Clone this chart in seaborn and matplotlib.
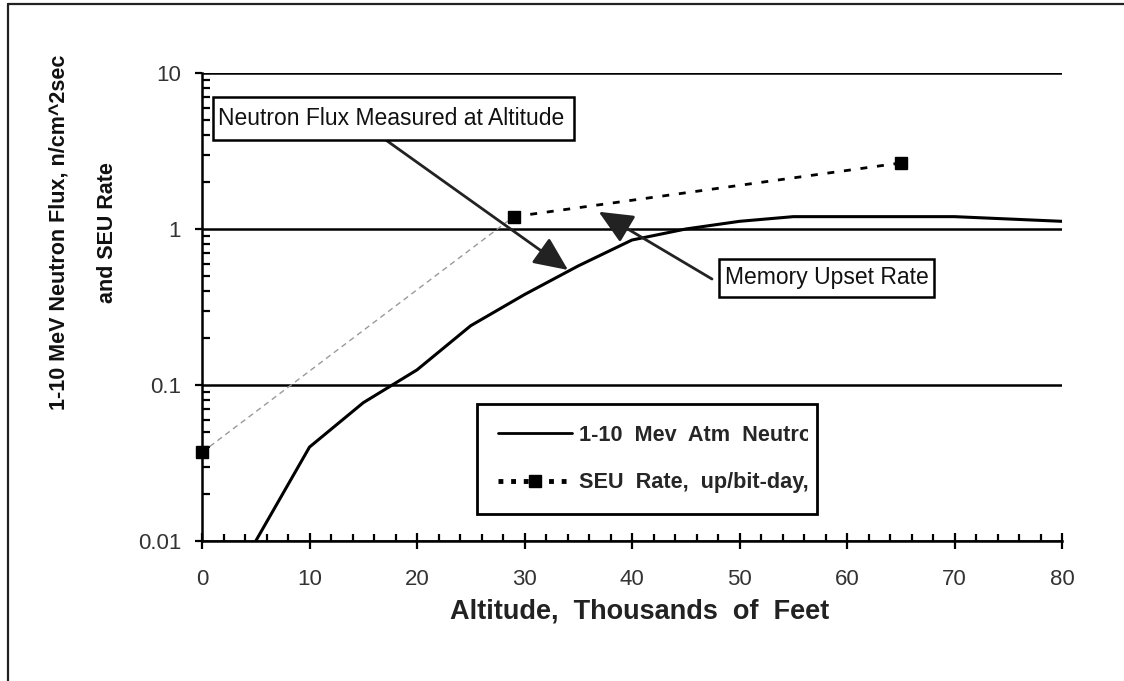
import numpy as np
import pandas as pd
import matplotlib
matplotlib.use("Agg")
import matplotlib.pyplot as plt
import seaborn as sns
from matplotlib.patches import Rectangle
from matplotlib.lines import Line2D
from matplotlib.ticker import MultipleLocator, LogLocator, NullFormatter
from matplotlib.font_manager import FontProperties
from matplotlib.transforms import Bbox

# ---------------- data ----------------
neutron_alt = [5, 10, 15, 20, 25, 30, 35, 40, 45, 50, 55, 60, 65, 70, 80]
neutron_flux = [0.01, 0.04, 0.077, 0.125, 0.24, 0.38, 0.58, 0.85, 1.0, 1.12, 1.2, 1.2, 1.2, 1.2, 1.12]

seu_alt = [0, 29, 65]
seu_rate = [0.037, 1.2, 2.65]

xticks = [0, 10, 20, 30, 40, 50, 60, 70, 80]
yticks = [0.01, 0.1, 1, 10]
ytick_labels = ["0.01", "0.1", "1", "10"]

legend_labels = ["1-10  Mev  Atm  Neutron", "SEU  Rate,  up/bit-day,  x1E-9"]
xlabel = "Altitude,  Thousands  of  Feet"
ylabel = "1-10 MeV Neutron Flux, n/cm^2sec\nand SEU Rate"
note_neutron = "Neutron Flux Measured at Altitude"
note_memory = "Memory Upset Rate"

# ---------------- style ----------------
sns.set_style("ticks")
plt.rcParams["font.family"] = ["Liberation Sans", "DejaVu Sans"]

W, H = 1124, 681
fig = plt.figure(figsize=(W / 100, H / 100), dpi=100)
fig.patch.set_linewidth(0)
ax = fig.add_axes([202 / W, 140 / H, 860 / W, 468 / H])

df_n = pd.DataFrame({"alt": neutron_alt, "flux": neutron_flux})
sns.lineplot(data=df_n, x="alt", y="flux", ax=ax, color="black", lw=2.2,
             sort=False, zorder=4)

# SEU rate: light first leg, darker dashed second leg
sns.lineplot(x=seu_alt[:2], y=seu_rate[:2], ax=ax, color="#9a9a9a", lw=1.0,
             linestyle=(0, (4, 3)), sort=False, zorder=4, clip_on=False)
sns.lineplot(x=seu_alt[1:], y=seu_rate[1:], ax=ax, color="black", lw=2.0,
             linestyle=(0, (2.5, 3.5)), sort=False, zorder=4, clip_on=False)
ax.plot(seu_alt, seu_rate, linestyle="none", marker="s", markersize=8,
        color="black", zorder=6, clip_on=False)

ax.set_yscale("log")
ax.set_xlim(0, 80)
ax.set_ylim(0.01, 10)

ax.set_xticks(xticks)
ax.set_xticklabels([str(v) for v in xticks])
ax.xaxis.set_minor_locator(MultipleLocator(2))
ax.set_yticks(yticks)
ax.set_yticklabels(ytick_labels)
ax.yaxis.set_minor_locator(LogLocator(base=10, subs=np.arange(2, 10)))
ax.yaxis.set_minor_formatter(NullFormatter())

ax.tick_params(axis="x", which="major", direction="inout", length=12, width=1.6,
               pad=14, labelsize=16, labelcolor="#333333", color="black")
ax.tick_params(axis="x", which="minor", direction="in", length=5, width=1.6,
               color="black")
ax.tick_params(axis="y", which="major", direction="out", length=5, width=1.6,
               pad=10, labelsize=16, labelcolor="#333333", color="black")
ax.tick_params(axis="y", which="minor", direction="in", length=6, width=1.6,
               color="black")

ax.grid(False)
ax.yaxis.grid(True, which="major", color="black", lw=1.8, zorder=1)
ax.set_axisbelow(True)
for s in ["top", "right"]:
    ax.spines[s].set_visible(False)
for s in ["left", "bottom"]:
    ax.spines[s].set_linewidth(1.8)
    ax.spines[s].set_color("black")

ax.set_xlabel(xlabel, fontsize=19.5, fontweight="bold", color="#222222")
ax.xaxis.set_label_coords(0.509, -0.15)
ax.xaxis.label.set_va("center")
ax.set_ylabel(ylabel, fontsize=15.5, fontweight="bold", color="#111111",
              linespacing=2.7)
ax.yaxis.set_label_coords(-0.138, 0.66)
ax.yaxis.label.set_va("center")

# ---------------- annotation boxes ----------------
def note_box(x0, y0, x1, y1, text, tx):
    r = Rectangle((x0, y0), x1 - x0, y1 - y0, transform=ax.transAxes,
                  facecolor="white", edgecolor="black", lw=1.8, zorder=7,
                  clip_on=False)
    ax.add_patch(r)
    t = ax.text(tx, (y0 + y1) / 2, text, transform=ax.transAxes, fontsize=16.5,
                ha="left", va="center", color="#111111", zorder=8)
    t.set_clip_path(r)
    return r

note_box(0.0128, 0.8568, 0.4326, 0.9487, note_neutron, 0.0186)
note_box(0.6012, 0.5214, 0.8512, 0.6026, note_memory, 0.6081)

arrow_kw = dict(arrowstyle="-|>,head_length=1.0,head_width=0.45",
                mutation_scale=21, lw=2.0, color="#222222",
                shrinkA=0, shrinkB=0)
ax.annotate("", xy=(34.05, 0.546), xycoords="data",
            xytext=(0.2105, 0.8611), textcoords="axes fraction",
            arrowprops=arrow_kw, zorder=6)
ax.annotate("", xy=(36.9, 1.29), xycoords="data",
            xytext=(0.593, 0.5598), textcoords="axes fraction",
            arrowprops=arrow_kw, zorder=6)

# ---------------- legend ----------------
h1 = Line2D([], [], color="black", lw=2.0)
h2 = Line2D([], [], color="black", lw=3.5, linestyle=(0, (1, 1.6)),
            marker="s", markersize=8)
leg = ax.legend(handles=[h1, h2], labels=legend_labels, loc="upper left",
                bbox_to_anchor=(0.32, 0.062, 0.3953, 0.2308), mode="expand",
                borderaxespad=0, frameon=True, fancybox=False,
                edgecolor="black", framealpha=1, facecolor="white",
                prop=FontProperties(family=["Liberation Sans", "DejaVu Sans"],
                                    weight="bold", size=15.6),
                handlelength=3.4, handletextpad=0.33, labelspacing=1.22,
                borderpad=0.97, numpoints=1)
leg.get_frame().set_linewidth(2.0)
leg.set_zorder(9)

# outer frame of the figure (top and left edges only)
fig.add_artist(Line2D([8 / W, 1.0], [1 - 4 / H, 1 - 4 / H],
                      transform=fig.transFigure, color="#222222", lw=1.6))
fig.add_artist(Line2D([8 / W, 8 / W], [0.0, 1 - 4 / H],
                      transform=fig.transFigure, color="#222222", lw=1.6))

fig.canvas.draw()
fb = leg.get_frame().get_window_extent()
clip = Bbox.from_extents(fb.x0, fb.y0, fb.x1 - 9, fb.y1)
for t in leg.get_texts():
    t.set_clip_box(clip)
    t.set_clip_on(True)

fig.savefig("out.png", dpi=100, edgecolor="none")
